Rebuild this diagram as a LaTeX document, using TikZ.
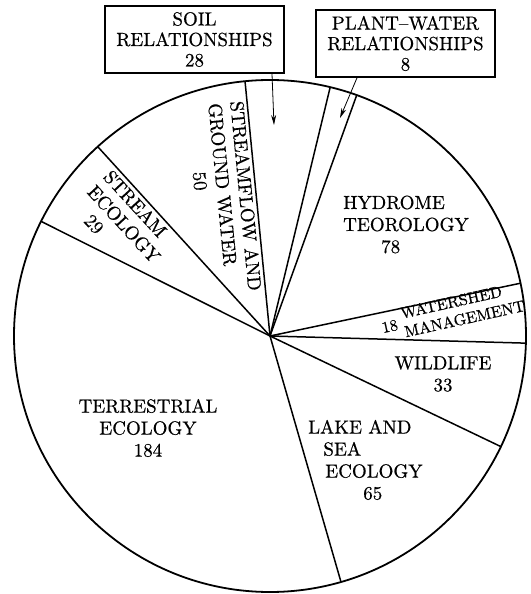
\documentclass[tikz,border=0pt]{standalone}
\usepackage{fontspec}
\setmainfont{lmroman10-regular.otf}[FakeBold=0.5]
\usepackage{tikz}
\usetikzlibrary{arrows.meta}

\begin{document}
\begin{tikzpicture}[
  x=1pt, y=1pt,
  rim/.style={line width=1.8pt},
  spoke/.style={line width=1.5pt},
  lbl/.style={font=\fontsize{19}{22}\selectfont, inner sep=0pt},
  smlbl/.style={font=\fontsize{16}{19}\selectfont, inner sep=0pt},
  tbox/.style={draw=black, line width=1.7pt, minimum width=179pt, minimum height=67pt, inner sep=2pt, align=center, font=\fontsize{19}{20.5}\selectfont},
  arw/.style={-{Stealth[length=10pt, width=5pt]}, line width=0.8pt}
  ]

\useasboundingbox (-270,-258) rectangle (260,336);

\coordinate (c) at (0,0);
\draw [rim] (c) circle (256pt);
\foreach \a in {95.6, 76.4, 70.2, 11.9, -1.6, -25.6, -73.9, 153.4, 132.3}
  \draw [spoke] (c) -- (\a:256pt);

\node [tbox] (soil) at (-75.5,296.5) {SOIL\\RELATIONSHIPS\\28};
\node [tbox] (plant) at (135.5,292.5) {PLANT--WATER\\RELATIONSHIPS\\8};
\coordinate (soiltip) at (4,211);
\coordinate (planttip) at (70,218);
\draw [arw] ([xshift=77.5pt]soil.south) -- (soiltip);
\draw [arw] ([xshift=-48.5pt]plant.south) -- (planttip);

\node [lbl, align=left, anchor=west] (hydro) at (73,111.5) {HYDROME\\TEOROLOGY\\\hspace*{2em}78};
\node [smlbl, rotate=12.5, anchor=west] (shed) at (112,7) {18 \begin{tabular}{@{}l@{}}WATERSHED\\MANAGEMENT\end{tabular}};
\node [lbl, align=center] (wild) at (173,-38) {WILDLIFE\\33};
\node [lbl, align=left, anchor=west] (lake) at (38,-124) {LAKE AND\\\hspace*{0.8em}SEA\\\hspace*{0.9em}ECOLOGY\\\hspace*{2.9em}65};
\node [lbl, align=center] (terr) at (-122,-92) {TERRESTRIAL\\ECOLOGY\\184};
\node [lbl, align=left, rotate=-47.5] (strm) at (-146,112) {STREAM\\ECOLOGY\\\hspace*{1em}29};
\node [lbl, align=left, rotate=-84.5] (flow) at (-46,138) {STREAMFLOW AND\\GROUND WATER\\\hspace*{3.5em}50};

\end{tikzpicture}
\end{document}
